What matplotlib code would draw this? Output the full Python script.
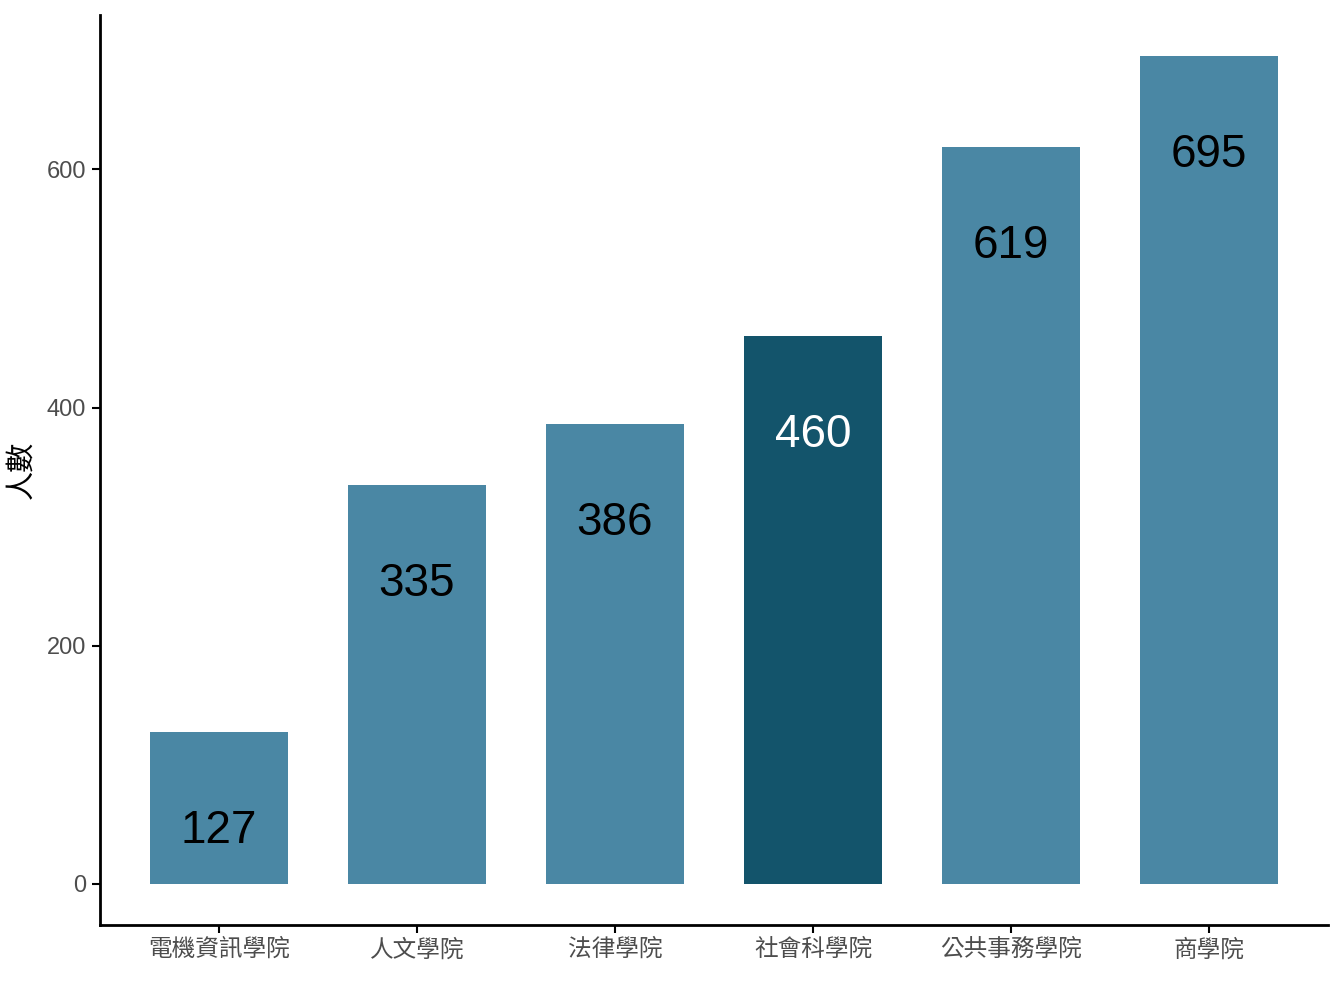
import matplotlib
matplotlib.use('Agg')
import matplotlib.pyplot as plt

plt.rcParams['font.family'] = ['Liberation Sans', 'Noto Sans CJK TC', 'DejaVu Sans']

colleges = ['電機資訊學院', '人文學院', '法律學院', '社會科學院', '公共事務學院', '商學院']
counts = [127, 335, 386, 460, 619, 695]
highlight = '社會科學院'

BAR_COLOR = '#4a87a4'
HIGHLIGHT_COLOR = '#13546b'

fig = plt.figure(figsize=(13.44, 10.08), dpi=100)
ax = fig.add_axes([100 / 1344, 83 / 1008, 1228 / 1344, 910 / 1008])

x = list(range(1, len(colleges) + 1))
colors = [HIGHLIGHT_COLOR if c == highlight else BAR_COLOR for c in colleges]
ax.bar(x, counts, width=0.7, color=colors)

for xi, c, v in zip(x, colleges, counts):
    ax.text(xi, v - 83, str(v), ha='center', va='center', fontsize=33,
            color='white' if c == highlight else 'black')

span = max(counts)
ax.set_ylim(-0.05 * span, span * 1.05)
ax.set_xlim(0.4, len(colleges) + 0.6)

ax.set_xticks(x, labels=colleges)
ax.set_yticks([0, 200, 400, 600])
ax.tick_params(axis='both', labelsize=17, labelcolor='#4d4d4d', length=6, width=1.5, color='black', pad=4)
ax.set_ylabel('人數', fontsize=21, labelpad=8)

for side in ['top', 'right']:
    ax.spines[side].set_visible(False)
for side in ['left', 'bottom']:
    ax.spines[side].set_linewidth(2)

fig.savefig('out.png', dpi=100)
